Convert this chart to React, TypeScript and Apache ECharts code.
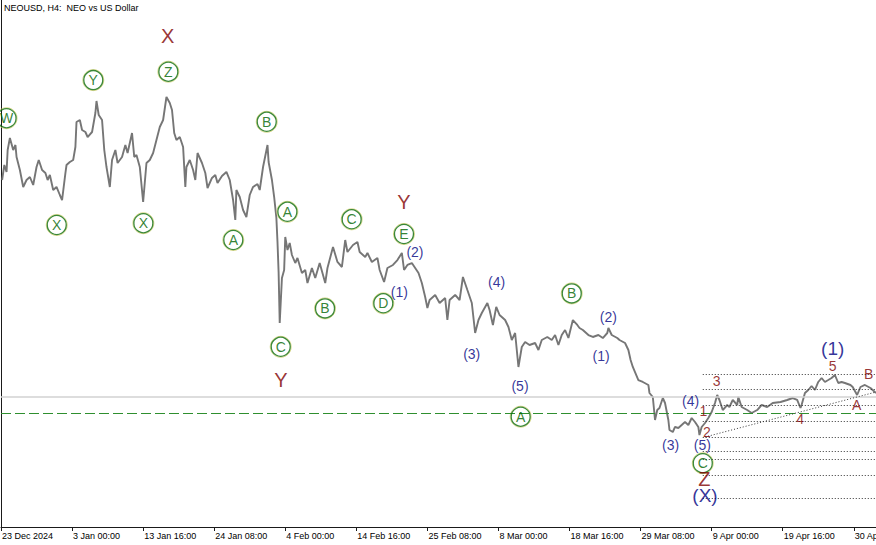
import React, { useEffect, useRef } from "react";
import * as echarts from "echarts";

// H4 bar index (0 = 23 Dec 2024 tick) and price (USD)
const tickLabels = [
  "23 Dec 2024", "3 Jan 00:00", "13 Jan 16:00", "24 Jan 08:00", "4 Feb 00:00",
  "14 Feb 16:00", "25 Feb 08:00", "8 Mar 00:00", "18 Mar 16:00", "29 Mar 08:00",
  "9 Apr 00:00", "19 Apr 16:00", "30 Apr 08:00",
];
const barsPerTick = 64;
const lastBar = 788;
const priceTop = 20;
const priceBottom = 2.4333;

const pricePath: [number, number][] = [
  [1, 14.0], [3, 14.5], [5, 14.267], [6, 15.0], [8, 15.4], [11, 15.0], [13, 15.167], [14, 14.767], [17, 14.333], [20, 13.767],
  [23, 14.0], [26, 14.1], [29, 13.833], [32, 14.433], [34, 14.667], [37, 14.333], [40, 14.233], [42, 14.0], [44, 14.167], [47, 13.667],
  [50, 13.767], [53, 13.5], [55, 13.333], [58, 14.233], [59, 14.5], [62, 14.6], [65, 14.667], [67, 15.1], [68, 15.933], [71, 16.0],
  [73, 15.667], [76, 15.6], [78, 15.433], [82, 15.6], [85, 16.233], [86, 16.633], [88, 16.167], [91, 16.0], [93, 15.0], [95, 14.433],
  [98, 13.767], [100, 14.667], [103, 15.0], [105, 14.567], [109, 14.767], [112, 15.167], [114, 14.9], [118, 15.567], [120, 14.767], [122, 14.833],
  [125, 14.433], [128, 13.267], [131, 14.567], [134, 14.667], [137, 14.9], [140, 15.333], [143, 15.767], [146, 16.0], [149, 16.767], [152, 16.567],
  [154, 16.333], [156, 15.567], [158, 15.333], [161, 15.433], [164, 15.1], [166, 13.767], [167, 14.433], [170, 14.667], [173, 14.333], [175, 14.0],
  [177, 14.9], [181, 14.567], [184, 14.233], [186, 13.733], [190, 14.067], [193, 14.167], [195, 13.9], [199, 14.133], [203, 14.267], [206, 14.0],
  [209, 13.333], [211, 12.667], [212, 13.667], [215, 13.433], [218, 13.0], [221, 12.767], [224, 13.5], [227, 13.767], [231, 13.867], [233, 13.667],
  [236, 14.433], [240, 15.167], [241, 14.6], [244, 14.0], [246, 13.433], [248, 12.733], [249, 11.933], [250, 10.933], [251, 9.233], [253, 10.733],
  [255, 11.0], [256, 12.1], [258, 11.667], [260, 11.9], [262, 11.5], [265, 11.233], [267, 11.4], [271, 10.9], [274, 11.0], [276, 10.567],
  [280, 11.067], [283, 10.733], [287, 11.233], [292, 10.567], [294, 11.067], [299, 11.767], [303, 11.267], [307, 11.1], [310, 12.0], [312, 11.6],
  [317, 11.833], [321, 11.933], [323, 11.6], [328, 11.433], [330, 11.567], [334, 11.267], [339, 11.4], [341, 11.0], [345, 10.6], [348, 11.067],
  [353, 11.167], [357, 11.333], [361, 11.567], [363, 11.0], [366, 11.167], [370, 11.233], [373, 11.067], [376, 10.9], [379, 10.567], [382, 10.1],
  [384, 9.733], [386, 10.0], [391, 10.167], [395, 9.9], [400, 10.067], [402, 9.333], [404, 10.0], [409, 10.167], [413, 10.0], [416, 10.767],
  [420, 10.333], [424, 9.9], [427, 8.9], [430, 9.333], [433, 9.567], [438, 9.9], [440, 9.667], [443, 9.167], [446, 9.767], [449, 9.5],
  [454, 9.333], [457, 9.1], [460, 8.667], [463, 8.9], [466, 7.767], [469, 8.433], [472, 8.6], [476, 8.5], [481, 8.567], [484, 8.333],
  [487, 8.667], [492, 8.767], [496, 8.667], [499, 8.833], [502, 8.5], [505, 8.833], [508, 9.0], [511, 8.733], [515, 9.333], [519, 9.167],
  [521, 9.067], [524, 9.0], [529, 8.833], [533, 8.767], [538, 8.833], [542, 8.733], [546, 8.9], [547, 9.067], [550, 8.833], [555, 8.733],
  [557, 8.667], [562, 8.567], [565, 8.333], [567, 8.0], [569, 7.767], [574, 7.333], [578, 7.267], [583, 7.167], [584, 6.9], [587, 6.767],
  [589, 6.0], [591, 6.333], [593, 6.4], [596, 6.733], [598, 6.567], [601, 6.0], [602, 5.667], [605, 5.6], [607, 5.767], [610, 5.733],
  [613, 5.833], [616, 5.933], [619, 5.833], [622, 6.067], [625, 5.933], [628, 5.767], [629, 5.5], [631, 5.767], [634, 5.9], [637, 6.067],
  [640, 6.267], [643, 6.567], [645, 6.833], [647, 6.667], [650, 6.333], [654, 6.5], [656, 6.433], [659, 6.667], [663, 6.5], [664, 6.767],
  [667, 6.433], [672, 6.333], [676, 6.233], [681, 6.333], [685, 6.5], [690, 6.433], [695, 6.567], [702, 6.6], [708, 6.667], [713, 6.733],
  [717, 6.667], [720, 6.4], [721, 6.5], [724, 6.9], [727, 7.0], [730, 7.133], [733, 7.0], [736, 7.267], [739, 7.4], [742, 7.267],
  [745, 7.333], [748, 7.4], [751, 7.5], [754, 7.233], [757, 7.267], [760, 7.233], [765, 7.167], [767, 7.1], [771, 6.833], [774, 7.1],
  [778, 7.167], [783, 7.067], [785, 7.0], [788, 6.9],
];

const bidLevel = 6.777;
const dashedLevel = 6.223;
const fibStartBar = 632;
const fibLevels = [7.517, 7.017, 6.483, 5.967, 5.433, 4.967, 4.683, 4.15, 3.383];
const trendLine: [number, number][] = [[634, 5.433], [788, 6.933]];

// wave labels: [text, bar, price]
const circledLabels: [string, number, number][] = [
  ["W", 5, 16.06], ["Y", 83.1, 17.33], ["Z", 150.7, 17.61], ["X", 50.2, 12.5], ["X", 128.2, 12.56],
  ["A", 209.2, 12.0], ["B", 239.3, 15.94], ["A", 257.9, 12.94], ["C", 251.9, 8.44], ["B", 291.8, 9.72],
  ["C", 315.8, 12.69], ["D", 344.3, 9.89], ["E", 362.9, 12.2], ["B", 514, 10.22], ["A", 468, 6.11], ["C", 632, 4.56],
];
const redBigLabels: [string, number, number][] = [
  ["X", 150.1, 18.8], ["Y", 362.9, 13.28], ["Y", 252.2, 7.33], ["Z", 633.4, 4.02],
];
const redSmallLabels: [string, number, number][] = [
  ["3", 644.5, 7.31], ["1", 632.5, 6.31], ["2", 635.6, 5.59], ["4", 719.6, 6.02], ["5", 749, 7.8], ["A", 770.6, 6.5], ["B", 781.4, 7.53],
];
const blueLabels: [string, number, number][] = [
  ["(2)", 372.8, 11.61], ["(1)", 358.7, 10.28], ["(4)", 446.4, 10.61], ["(3)", 423.9, 8.2], ["(5)", 467.4, 7.13],
  ["(2)", 547, 9.44], ["(1)", 540.4, 8.13], ["(3)", 603.1, 5.17], ["(4)", 621.1, 6.63], ["(5)", 631.6, 5.15],
];
const blueBigLabels: [string, number, number][] = [
  ["(1)", 749, 8.37], ["(X)", 634, 3.49],
];

const FONT = "Liberation Sans, Arial, sans-serif";
const RED = "#800000";
const NAVY = "#000080";
const GREEN_TEXT = "#006400";

function textSeries(items: [string, number, number][], color: string, size: number, z: number) {
  return {
    type: "scatter",
    silent: true,
    z,
    symbol: "circle",
    symbolSize: 1,
    itemStyle: { color: "rgba(0,0,0,0)" },
    label: {
      show: true,
      position: "inside",
      formatter: "{b}",
      color,
      fontSize: size,
      fontFamily: FONT,
    },
    data: items.map(([t, b, p]) => ({ name: t, value: [b, p] })),
  };
}

function levelSeries(data: any[], lineStyle: any, z: number) {
  return {
    type: "line",
    silent: true,
    z,
    data: [],
    markLine: {
      silent: true,
      symbol: ["none", "none"],
      label: { show: false },
      lineStyle,
      emphasis: { disabled: true },
      data,
    },
  };
}

export default function App() {
  const ref = useRef<HTMLDivElement>(null);
  useEffect(() => {
    document.body.style.margin = "0";
    const chart = echarts.init(ref.current!, undefined, { renderer: "svg" });
    const option: any = {
      animation: false,
      backgroundColor: "#ffffff",
      grid: { left: 1, right: 0, top: 0, bottom: 18, containLabel: false, outerBoundsMode: "none" },
      graphic: [
        {
          type: "text",
          left: 4,
          top: 3,
          style: { text: "NEOUSD, H4:  NEO vs US Dollar", fill: "#000", fontSize: 9, fontFamily: FONT },
        },
      ],
      xAxis: {
        type: "value",
        min: 0,
        max: lastBar,
        interval: barsPerTick,
        axisLine: { show: true, lineStyle: { color: "#1a1a1a", width: 1 } },
        axisTick: { show: true, length: 4, lineStyle: { color: "#1a1a1a" } },
        splitLine: { show: false },
        axisLabel: {
          show: true,
          showMaxLabel: false,
          hideOverlap: false,
          align: "left",
          margin: 4,
          padding: [0, 0, 0, 1],
          color: "#000",
          fontSize: 9,
          fontFamily: FONT,
          formatter: (v: number) => (v % barsPerTick === 0 ? tickLabels[v / barsPerTick] ?? "" : ""),
        },
      },
      yAxis: {
        type: "value",
        min: priceBottom,
        max: priceTop,
        axisLine: { show: true, lineStyle: { color: "#1a1a1a", width: 1 } },
        axisTick: { show: false },
        axisLabel: { show: false },
        splitLine: { show: false },
      },
      series: [
        levelSeries([{ yAxis: bidLevel }], { color: "#d2d2d2", width: 1.5, type: "solid" }, 1),
        levelSeries([{ yAxis: dashedLevel }], { color: "#2f8f2f", width: 1.2, type: [10, 4] }, 2),
        levelSeries(
          [
            ...fibLevels.map((lvl) => [{ coord: [fibStartBar, lvl] }, { coord: [lastBar, lvl] }]),
            [{ coord: trendLine[0] }, { coord: trendLine[1] }],
          ],
          { color: "#333333", width: 1, type: [1, 2] },
          2
        ),
        {
          type: "line",
          silent: true,
          z: 3,
          showSymbol: false,
          data: pricePath,
          lineStyle: { color: "#767676", width: 1.9 },
        },
        {
          type: "scatter",
          silent: true,
          z: 4,
          symbol: "circle",
          symbolSize: 21,
          itemStyle: { color: "rgba(0,0,0,0)", borderColor: "#d0d070", borderWidth: 1 },
          data: circledLabels.map(([t, b, p]) => ({ name: t, value: [b, p] })),
        },
        {
          type: "scatter",
          silent: true,
          z: 5,
          symbol: "circle",
          symbolSize: 19,
          itemStyle: { color: "rgba(0,0,0,0)", borderColor: "#0a6a0a", borderWidth: 1.3 },
          label: {
            show: true,
            position: "inside",
            formatter: "{b}",
            color: GREEN_TEXT,
            fontSize: 14,
            fontFamily: FONT,
          },
          data: circledLabels.map(([t, b, p]) => ({ name: t, value: [b, p] })),
        },
        textSeries(redBigLabels, RED, 20, 6),
        textSeries(redSmallLabels, RED, 14, 6),
        textSeries(blueLabels, NAVY, 14, 6),
        textSeries(blueBigLabels, NAVY, 19, 6),
      ],
    };
    chart.setOption(option);
    return () => chart.dispose();
  }, []);
  return (
    <div
      ref={ref}
      style={{ position: "absolute", left: 0, top: 0, width: 876, height: 545, background: "#fff" }}
    />
  );
}
